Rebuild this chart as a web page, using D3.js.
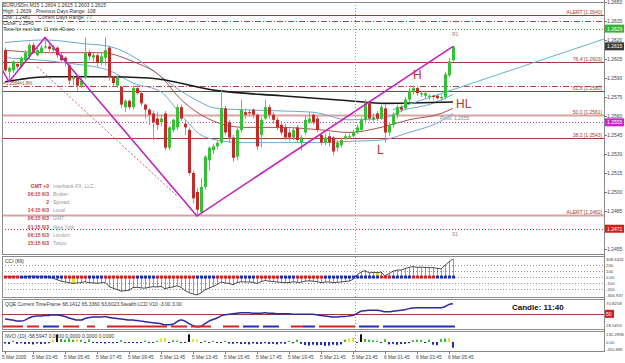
<!DOCTYPE html>
<html>
<head>
<meta charset="utf-8">
<script src="https://cdn.jsdelivr.net/npm/d3@7/dist/d3.min.js"></script>
<style>
  body { margin: 0; background: #fff; }
  svg text { font-family: "Liberation Sans", Arial, sans-serif; }
</style>
</head>
<body>
<div id="chart"></div>
<script>
// ---- data (EURUSDm M15) ----
const barOpen = [1.2612,1.2595,1.2596,1.2601,1.2599,1.2604,1.2607,1.2616,1.2608,1.2610,
  1.2614,1.2615,1.2612,1.2614,1.2608,1.2606,1.2600,1.2589,1.2591,1.2584,
  1.2591,1.2610,1.2606,1.2608,1.2602,1.2606,1.2614,1.2591,1.2584,1.2583,
  1.2567,1.2572,1.2567,1.2582,1.2578,1.2569,1.2565,1.2562,1.2558,1.2555,
  1.2562,1.2535,1.2549,1.2551,1.2567,1.2554,1.2549,1.2515,1.2500,1.2484,
  1.2504,1.2525,1.2533,1.2536,1.2539,1.2566,1.2555,1.2543,1.2528,1.2549,
  1.2563,1.2563,1.2565,1.2561,1.2545,1.2558,1.2567,1.2561,1.2557,1.2553,
  1.2551,1.2547,1.2543,1.2551,1.2539,1.2547,1.2555,1.2561,1.2558,1.2545,
  1.2539,1.2544,1.2543,1.2535,1.2537,1.2542,1.2543,1.2544,1.2547,1.2549,
  1.2557,1.2570,1.2557,1.2562,1.2558,1.2566,1.2547,1.2553,1.2561,1.2567,
  1.2566,1.2573,1.2579,1.2582,1.2577,1.2576,1.2575,1.2576,1.2576,1.2574,
  1.2575,1.2592,1.2604];
const barHigh = [1.2614,1.2599,1.2604,1.2603,1.2607,1.2612,1.2618,1.2618,1.2614,1.2616,
  1.2622,1.2617,1.2616,1.2615,1.2610,1.2607,1.2602,1.2592,1.2592,1.2590,
  1.2622,1.2612,1.2610,1.2610,1.2610,1.2622,1.2615,1.2592,1.2592,1.2584,
  1.2573,1.2573,1.2584,1.2584,1.2580,1.2570,1.2566,1.2564,1.2563,1.2561,
  1.2564,1.2552,1.2558,1.2569,1.2569,1.2557,1.2551,1.2517,1.2503,1.2511,
  1.2529,1.2536,1.2538,1.2541,1.2580,1.2568,1.2557,1.2545,1.2551,1.2573,
  1.2566,1.2565,1.2566,1.2562,1.2559,1.2573,1.2569,1.2563,1.2559,1.2556,
  1.2554,1.2550,1.2551,1.2553,1.2545,1.2560,1.2563,1.2562,1.2560,1.2547,
  1.2546,1.2547,1.2544,1.2541,1.2543,1.2546,1.2546,1.2549,1.2553,1.2559,
  1.2573,1.2572,1.2562,1.2564,1.2569,1.2569,1.2555,1.2563,1.2569,1.2569,
  1.2575,1.2582,1.2584,1.2584,1.2580,1.2580,1.2577,1.2577,1.2577,1.2577,
  1.2595,1.2606,1.2615];
const barLow = [1.2595,1.2587,1.2594,1.2597,1.2598,1.2603,1.2605,1.2609,1.2607,1.2609,
  1.2613,1.2611,1.2610,1.2606,1.2603,1.2599,1.2585,1.2584,1.2580,1.2582,
  1.2589,1.2604,1.2603,1.2599,1.2600,1.2600,1.2588,1.2584,1.2582,1.2566,
  1.2563,1.2565,1.2565,1.2577,1.2568,1.2558,1.2553,1.2541,1.2549,1.2552,
  1.2533,1.2533,1.2547,1.2549,1.2556,1.2545,1.2513,1.2491,1.2481,1.2483,
  1.2502,1.2517,1.2530,1.2534,1.2538,1.2545,1.2539,1.2524,1.2525,1.2547,
  1.2558,1.2560,1.2558,1.2533,1.2535,1.2557,1.2558,1.2554,1.2549,1.2545,
  1.2541,1.2540,1.2541,1.2539,1.2533,1.2545,1.2554,1.2553,1.2547,1.2537,
  1.2537,1.2536,1.2529,1.2532,1.2535,1.2541,1.2542,1.2543,1.2546,1.2547,
  1.2555,1.2556,1.2555,1.2556,1.2557,1.2539,1.2544,1.2551,1.2558,1.2563,
  1.2565,1.2571,1.2577,1.2576,1.2575,1.2574,1.2573,1.2573,1.2573,1.2572,
  1.2573,1.2591,1.2603];
const barClose = [1.2596,1.2598,1.2603,1.2599,1.2606,1.2610,1.2616,1.2610,1.2612,1.2614,
  1.2615,1.2613,1.2614,1.2608,1.2604,1.2603,1.2588,1.2590,1.2584,1.2588,
  1.2610,1.2607,1.2608,1.2602,1.2607,1.2612,1.2591,1.2586,1.2590,1.2569,
  1.2572,1.2567,1.2582,1.2578,1.2570,1.2565,1.2561,1.2555,1.2553,1.2558,
  1.2535,1.2551,1.2557,1.2567,1.2558,1.2551,1.2515,1.2495,1.2486,1.2504,
  1.2528,1.2535,1.2536,1.2539,1.2566,1.2547,1.2543,1.2527,1.2549,1.2565,
  1.2561,1.2562,1.2561,1.2536,1.2557,1.2567,1.2561,1.2557,1.2551,1.2547,
  1.2543,1.2543,1.2549,1.2541,1.2543,1.2557,1.2558,1.2555,1.2549,1.2539,
  1.2543,1.2539,1.2532,1.2539,1.2541,1.2544,1.2544,1.2547,1.2551,1.2557,
  1.2570,1.2558,1.2559,1.2558,1.2567,1.2547,1.2553,1.2561,1.2567,1.2565,
  1.2573,1.2580,1.2582,1.2578,1.2578,1.2578,1.2576,1.2575,1.2574,1.2575,
  1.2593,1.2603,1.2615];

// indicator lines on price panel: [bar, price]
const upperBand = [[0,1.2618],[10,1.2620],[20,1.2617],[26,1.2615],[32,1.2607],[37,1.2596],[42,1.2584],[47,1.2574],[53,1.2566],[59,1.2565],[69,1.2564],[77,1.2563],[86,1.2557],[94,1.2558],[100,1.2565],[106,1.2569],[112,1.2577]];
const midBand = [[0,1.2612],[10,1.2610],[24,1.2610],[32,1.2603],[39,1.2591],[44,1.2573],[49,1.2561],[55,1.2553],[60,1.2551],[69,1.2551],[79,1.2549],[86,1.2547],[94,1.2551],[101,1.2557],[109,1.2562],[112,1.2566]];
const lowerBand = [[0,1.2606],[15,1.2602],[26,1.2596],[32,1.2586],[39,1.2579],[44,1.2561],[49,1.2545],[53,1.2541],[59,1.2539],[69,1.2539],[79,1.2539],[86,1.2540],[94,1.2541],[101,1.2547],[109,1.2556],[112,1.2562]];
const slowMA = [[0,1.2587],[4,1.2589],[11,1.2591],[24,1.2591],[36,1.2590],[53,1.2580],[69,1.2576],[86,1.2572],[95,1.2570],[112,1.2571]];
const zigzag = [[-1,1.2598],[1,1.2587],[10,1.2622],[48,1.2481],[112,1.2615]];
const channelLine = [[8,1.2599],[43,1.2497]];
const trendLine = [[97,1.2565],[150,1.2621]];

const levelPrices = [1.2640,1.2635,1.2629,1.2603,1.2584,1.2580,1.2561,1.2555,1.2543,1.2482,1.2471];
const levelKinds  = ["solid","dashdot","dotgreen","solid","dashdot","solid","wide","dotmag","solid","wide","dotred"];
const levelNames  = ["ALERT  [1.2640]","","","76.4  [1.2603]","","61.8  [1.2580]","50.0  [1.2561]","","38.2  [1.2543]","ALERT  [1.2482]",""];

const priceTicks = [1.2650,1.2635,1.2620,1.2605,1.2590,1.2575,1.2560,1.2545,1.2530,1.2515,1.2500,1.2485,1.2470,1.2455];
const markerPrices = [1.2629,1.2615,1.2555,1.2471];
const markerKinds = ["green","dark","magenta","red"];

const timeBars = [0,7,15,23,31,39,47,55,63,71,79,87,95,103,111];
const timeLabels = ["5 Mar 2009","5 Mar 03:45","5 Mar 05:45","5 Mar 07:45","5 Mar 09:45","5 Mar 11:45","5 Mar 13:45",
  "5 Mar 15:45","5 Mar 17:45","5 Mar 19:45","5 Mar 21:45","5 Mar 23:45","6 Mar 01:45","6 Mar 03:45","6 Mar 05:45"];
const daySplitBar = 87.5;

const cciValues = [5,10,8,2,-5,0,12,15,10,5, 8,0,-20,-45,-70,-85,-95,-110,-100,-95,
  -80,-95,-100,-105,-100,-90,-160,-190,-215,-240, -235,-225,-180,-175,-185,-190,-175,-165,-170,-160,
  -200,-180,-170,-150,-175,-230,-265,-290,-306,-270, -220,-190,-160,-130,-85,-100,-110,-130,-95,-80,
  -85,-85,-90,-110,-80,-60,-70,-75,-85,-90, -95,-95,-80,-90,-90,-70,-65,-70,-80,-95,
  -85,-85,-95,-90,-85,-75,-70,-40,40,85, 110,70,80,75,85,20,60,100,120,120,
  145,165,180,165,170,165,160,160,150,140, 200,260,308];
const cciDots = "rrrrbbbbbbbbbbbrrrrrrbbbbrrrrrrrrbbbbbrrrrrrrrrrbbbbbrrrrrrbbbbrrrrrrbbbbrrrrrrrbbbbbbbbbbbbbbrrrbbbbbrrrrrrbbbbb";
const cciYellowBars = [17,93];
const cciLevels = [200,100,0,-100,-200];
const cciAxisLabels = ["308.6431","200","100","0.00","-100","-200","-306.937"];
const cciAxisValues = [308.6431,200,100,0,-100,-200,-306.937];

const qqeValues = [40,39,38,36,36,38,42,45,46,46, 47,47,48,48,47,45,42,40,38,38,
  41,43,44,44,44,45,43,42,41,40, 39,38,38,37,36,35,34,33,32,31,
  29,29,30,35,38,36,31,27,25,26, 31,36,39,42,46,48,49,50,51,52,
  52,52,51,51,51,52,51,51,50,50, 50,50,49,49,49,49,49,49,48,47,
  46,45,44,44,45,45,46,47,51,55, 56,57,57,57,56,54,54,55,56,57,
  58,60,61,61.5,61.7,61.7,61.7,61.7,61.7,61.7, 64,68,69.5];
const qqeState = "rrrrr_rrr_bbbb_rrrr__rr___rrrrrrrrrrrrrrr_rrrr_rrrrr___rrrr_bbbb_bbbb___rrrbbb_rrrrrrrrr_bbbbb_bbbbbbbbbbbbbbbbbb";

const nvoValues = [-50,-70,20,-60,-40,-70,-60,-80,-50,-70,-60,-40,
  40,125,50,40,60,40,55,35,
  -20,45,-30,-40,-30,-50,-20,-40,-30,30,-20,-30,-20,-40,-30,25,
  -20,-30,20,60,70,-20,30,25,-20,-30,130,50,40,-20,25,-30,20,-20,-30,20,
  -50,-60,-40,-70,-60,-80,-50,-70,-60,-40,-70,-60,-80,-50,-60,
  20,-40,40,-60,
  -100,-120,-90,-110,-100,-130,-120,-90,-110,-80,
  40,60,70,-30,130,50,40,30,25,-30,45,-80,-60,-90,-70,-60,-40,30,40,35,-30,40,-90,-110,50,60,70,-190];
const nvoColors = "bbgbbbbbbbbb" + "ykggggyg" + "bgbbbbbbbgbbbbbg" + "bbgyybggbbkyybgbgbbg" +
  "bbbbbbbbbbbbbbb" + "gbgb" + "bbbbbbbbbb" + "gyybkggggbgbbbbbbgggbgbbggyb";

// ---- layout ----
const W = 625, H = 363;
const mainP = {l: 2, r: 604, t: 2, b: 254};
const cciP = {t: 256, b: 297};
const qqeP = {t: 299, b: 329};
const nvoP = {t: 331, b: 351};

const svg = d3.select('#chart').append('svg').attr('width', W).attr('height', H);
svg.append('rect').attr('width', W).attr('height', H).attr('fill', '#fff');

const x = d3.scaleLinear().domain([0, 112]).range([5, 453]);
const y = d3.scaleLinear().domain([1.2455, 1.2650]).range([249, 2]);
const cciY = d3.scaleLinear().domain([-306.937, 308.6431]).range([295, 259]);
const qqeY = d3.scaleLinear().domain([28.5453, 70.8258]).range([325, 303]);
const nvoY = d3.scaleLinear().domain([-200.885, 0, 135.2896]).range([348, 342, 334]);

const defs = svg.append('defs');
defs.append('clipPath').attr('id', 'clipMain').append('rect')
  .attr('x', mainP.l).attr('y', mainP.t).attr('width', mainP.r - mainP.l).attr('height', mainP.b - mainP.t);

const main = svg.append('g').attr('clip-path', 'url(#clipMain)');
const font = 6;
const small = 5;

// horizontal levels
const levelStyle = {
  solid:    {stroke: '#a33a3a', w: 1, dash: null},
  dashdot:  {stroke: '#b04848', w: 1, dash: '6,2,1,2'},
  dotgreen: {stroke: '#3aaa3a', w: 1, dash: '1,2'},
  wide:     {stroke: '#d9a3a3', w: 2, dash: null},
  dotmag:   {stroke: '#c040c0', w: 1, dash: '1,2'},
  dotred:   {stroke: '#cc2020', w: 1, dash: '1,2'}
};
levelPrices.forEach((p, i) => {
  const s = levelStyle[levelKinds[i]];
  main.append('line')
    .attr('x1', mainP.l).attr('x2', mainP.r)
    .attr('y1', Math.round(y(p)) + 0.5).attr('y2', Math.round(y(p)) + 0.5)
    .attr('stroke', s.stroke).attr('stroke-width', s.w)
    .attr('stroke-dasharray', s.dash);
  if (levelNames[i]) {
    main.append('text').attr('x', 602).attr('y', Math.round(y(p)) - 1)
      .attr('text-anchor', 'end').attr('font-size', small).attr('fill', '#a33a3a')
      .text(levelNames[i]);
  }
});

// day separator
svg.append('line')
  .attr('x1', Math.round(x(daySplitBar)) + 0.5).attr('x2', Math.round(x(daySplitBar)) + 0.5)
  .attr('y1', mainP.t).attr('y2', nvoP.b)
  .attr('stroke', '#999').attr('stroke-dasharray', '1,2');

// pivot and R1/S1 labels
main.append('text').attr('x', 440).attr('y', y(1.2555) - 2).attr('font-size', small).attr('fill', '#888').text('Pivot: 1.2555');
main.append('text').attr('x', 452).attr('y', y(1.2629) + 7).attr('font-size', small).attr('fill', '#888').text('R1');
main.append('text').attr('x', 452).attr('y', y(1.2471) + 7).attr('font-size', small).attr('fill', '#888').text('S1');
main.append('text').attr('x', 3).attr('y', y(1.2584) - 1).attr('font-size', 4.5).attr('fill', '#a33a3a').text('=1.2584=1.8%');

// bands and MAs
const line = d3.line().x(d => x(d[0])).y(d => y(d[1])).curve(d3.curveMonotoneX);
const straight = d3.line().x(d => x(d[0])).y(d => y(d[1]));
main.append('path').datum(upperBand).attr('d', line).attr('fill', 'none').attr('stroke', '#6fa8d0').attr('stroke-width', 1);
main.append('path').datum(lowerBand).attr('d', line).attr('fill', 'none').attr('stroke', '#6fa8d0').attr('stroke-width', 1);
main.append('path').datum(midBand).attr('d', line).attr('fill', 'none').attr('stroke', '#b05050').attr('stroke-width', 1);
main.append('path').datum(slowMA).attr('d', line).attr('fill', 'none').attr('stroke', '#1a1a1a').attr('stroke-width', 1.6);
main.append('path').datum(channelLine).attr('d', straight).attr('fill', 'none').attr('stroke', '#c06060').attr('stroke-dasharray', '2,2');
main.append('path').datum(trendLine).attr('d', straight).attr('fill', 'none').attr('stroke', '#5ab4d8').attr('stroke-width', 1);

// candles
const bars = d3.range(barOpen.length);
main.selectAll('.wick').data(bars).join('line')
  .attr('class', 'wick')
  .attr('x1', i => Math.round(x(i)) + 0.5).attr('x2', i => Math.round(x(i)) + 0.5)
  .attr('y1', i => y(barHigh[i])).attr('y2', i => y(barLow[i]))
  .attr('stroke', '#9a9a9a').attr('stroke-width', 1);
main.selectAll('.body').data(bars).join('rect')
  .attr('class', 'body')
  .attr('x', i => Math.round(x(i)) - 1)
  .attr('width', 3)
  .attr('y', i => y(Math.max(barOpen[i], barClose[i])))
  .attr('height', i => Math.max(1, Math.abs(y(barOpen[i]) - y(barClose[i]))))
  .attr('fill', i => barClose[i] > barOpen[i] ? '#33c233' : (barClose[i] < barOpen[i] ? '#c42a2a' : '#888'));

// zigzag
main.append('path').datum(zigzag).attr('d', straight).attr('fill', 'none').attr('stroke', '#c020c0').attr('stroke-width', 1.5);

// swing labels
main.append('text').attr('x', x(102)).attr('y', y(1.2589)).attr('font-size', 12).attr('fill', '#c03030').text('H');
main.append('text').attr('x', x(93)).attr('y', y(1.2530)).attr('font-size', 12).attr('fill', '#c03030').text('L');
main.append('text').attr('x', x(112) + 3).attr('y', y(1.2566)).attr('font-size', 12).attr('fill', '#c03030').text('HL');

// info text top-left
const info = svg.append('g').attr('font-size', small).attr('fill', '#333');
info.append('text').attr('x', 3).attr('y', 7).text('EURUSDm,M15  1.2604 1.2615 1.2603 1.2615');
info.append('text').attr('x', 3).attr('y', 13).text('High: 1.2639');
info.append('text').attr('x', 36).attr('y', 13).text('Previous Days Range: 108');
info.append('text').attr('x', 3).attr('y', 19).text('Low: 1.2481');
info.append('text').attr('x', 38).attr('y', 19).text('Current Days Range: 77');
info.append('text').attr('x', 3).attr('y', 25).text('Close: 1.2545');
info.append('text').attr('x', 3).attr('y', 31).text('Time for next bar: 11 min 40 sec');

// clock box lower-left
const clockVals = ["GMT +0","06:15  6/3","2","14:15  6/3","06:15  6/3","01:15  6/3","06:15  6/3","15:15  6/3"];
const clockNames = ["Interbank FX, LLC.:","Broker:","Spread:","Local:","GMT:","New York:","London:","Tokyo:"];
clockVals.forEach((v, i) => {
  svg.append('text').attr('x', 49).attr('y', 188 + i * 8.1).attr('text-anchor', 'end')
    .attr('font-size', small).attr('font-weight', 'bold').attr('fill', '#c04040').text(v);
  svg.append('text').attr('x', 53).attr('y', 188 + i * 8.1)
    .attr('font-size', small).attr('fill', '#999').text(clockNames[i]);
});

// price axis
const axisG = svg.append('g');
axisG.append('line').attr('x1', mainP.r + 0.5).attr('x2', mainP.r + 0.5).attr('y1', 0).attr('y2', nvoP.b).attr('stroke', '#777');
priceTicks.forEach(p => {
  axisG.append('line').attr('x1', mainP.r).attr('x2', mainP.r + 3).attr('y1', Math.round(y(p)) + 0.5).attr('y2', Math.round(y(p)) + 0.5).attr('stroke', '#777');
  axisG.append('text').attr('x', 607).attr('y', y(p) + 2).attr('font-size', small).attr('fill', '#444').text(p.toFixed(4));
});
const markerFill = {green: '#2fb82f', dark: '#3a3a3a', magenta: '#d020d0', red: '#d81c1c'};
markerPrices.forEach((p, i) => {
  axisG.append('rect').attr('x', 605).attr('y', y(p) - 4).attr('width', 19).attr('height', 8).attr('fill', markerFill[markerKinds[i]]);
  axisG.append('text').attr('x', 607).attr('y', y(p) + 2).attr('font-size', small).attr('fill', '#fff').text(p.toFixed(4));
});

// panel frames
[[mainP.t, mainP.b], [cciP.t, cciP.b], [qqeP.t, qqeP.b], [nvoP.t, nvoP.b]].forEach(([t, b]) => {
  svg.append('rect').attr('x', mainP.l + 0.5).attr('y', t + 0.5).attr('width', mainP.r - mainP.l).attr('height', b - t)
    .attr('fill', 'none').attr('stroke', '#8a8a8a');
});

// ---- CCI panel ----
const cci = svg.append('g');
cciLevels.forEach(v => {
  cci.append('line').attr('x1', mainP.l).attr('x2', mainP.r).attr('y1', Math.round(cciY(v)) + 0.5).attr('y2', Math.round(cciY(v)) + 0.5)
    .attr('stroke', '#999').attr('stroke-dasharray', '1,2');
});
cci.selectAll('.cbar').data(bars).join('line')
  .attr('x1', i => Math.round(x(i)) + 0.5).attr('x2', i => Math.round(x(i)) + 0.5)
  .attr('y1', cciY(0)).attr('y2', i => cciY(cciValues[i]))
  .attr('stroke', i => cciYellowBars.includes(i) ? '#e8e020' : '#555').attr('stroke-width', i => cciYellowBars.includes(i) ? 3 : 0.6);
cci.append('path').datum(bars).attr('d', d3.line().x(i => x(i)).y(i => cciY(cciValues[i])))
  .attr('fill', 'none').attr('stroke', '#222').attr('stroke-width', 0.8);
cci.selectAll('.cdot').data(bars).join('rect')
  .attr('x', i => Math.round(x(i)) - 1).attr('y', cciY(0) - 1.5).attr('width', 3).attr('height', 3)
  .attr('fill', i => cciDots[i] === 'r' ? '#d42020' : '#1f2fb0');
cci.append('text').attr('x', 5).attr('y', cciP.t + 7).attr('font-size', small).attr('fill', '#333').text('CCI (89)');
cciAxisValues.forEach((v, i) => {
  cci.append('text').attr('x', 606).attr('y', cciY(v) + 2).attr('font-size', 4.3).attr('fill', '#444').text(cciAxisLabels[i]);
});

// ---- QQE panel ----
const qqe = svg.append('g');
qqe.append('line').attr('x1', mainP.l).attr('x2', mainP.r).attr('y1', Math.round(qqeY(50)) + 0.5).attr('y2', Math.round(qqeY(50)) + 0.5)
  .attr('stroke', '#a33a3a');
qqe.append('path').datum(bars).attr('d', d3.line().x(i => x(i)).y(i => qqeY(qqeValues[i])).curve(d3.curveMonotoneX))
  .attr('fill', 'none').attr('stroke', '#2a2aa0').attr('stroke-width', 1.5);
qqe.selectAll('.qs').data(bars.filter(i => qqeState[i] !== '_')).join('rect')
  .attr('x', i => Math.round(x(i)) - 2).attr('y', qqeY(28.5453) + 0.5).attr('width', 4).attr('height', 2)
  .attr('fill', i => qqeState[i] === 'r' ? '#dd2020' : '#2030b0');
qqe.append('text').attr('x', 5).attr('y', qqeP.t + 7).attr('font-size', small).attr('fill', '#333')
  .text('QQE Current TimeFrame 68.1412 65.3360 63.6023  Stealth LCD  V10 -3.00 3.00');
qqe.append('text').attr('x', 512).attr('y', qqeP.t + 11).attr('font-size', 8).attr('font-weight', 'bold').attr('fill', '#111')
  .text('Candle:  11:40');
qqe.append('text').attr('x', 606).attr('y', qqeY(70.8258) + 2).attr('font-size', 4.3).attr('fill', '#444').text('70.8258');
qqe.append('text').attr('x', 606).attr('y', qqeY(28.5453) + 2).attr('font-size', 4.3).attr('fill', '#444').text('28.5453');
qqe.append('rect').attr('x', 605).attr('y', qqeY(50) - 4).attr('width', 9).attr('height', 8).attr('fill', '#d81c1c');
qqe.append('text').attr('x', 606).attr('y', qqeY(50) + 2).attr('font-size', small).attr('fill', '#fff').text('50');

// ---- NVO panel ----
const nvo = svg.append('g');
const nvoFill = {b: '#1f2fa8', g: '#30c030', y: '#e6e030', k: '#111'};
nvo.selectAll('.nb').data(bars).join('rect')
  .attr('x', i => Math.round(x(i)) - 1).attr('width', 2)
  .attr('y', i => Math.min(nvoY(0), nvoY(nvoValues[i])))
  .attr('height', i => Math.max(1, Math.abs(nvoY(nvoValues[i]) - nvoY(0))))
  .attr('fill', i => nvoFill[nvoColors[i]]);
nvo.append('text').attr('x', 5).attr('y', nvoP.t + 7).attr('font-size', small).attr('fill', '#333')
  .text('NVO (10) -58.5947 0.0000 0.0000 0.0000 0.0000');
nvo.append('text').attr('x', 606).attr('y', nvoY(135.2896) + 2).attr('font-size', 4.3).attr('fill', '#444').text('135.2896');
nvo.append('text').attr('x', 606).attr('y', nvoY(0) + 2).attr('font-size', 4.3).attr('fill', '#444').text('0.00');
nvo.append('text').attr('x', 606).attr('y', nvoY(-200.885) + 3).attr('font-size', 4.3).attr('fill', '#444').text('-200.885');

// ---- time axis ----
const tAxis = svg.append('g');
timeBars.forEach((b, i) => {
  tAxis.append('line').attr('x1', Math.round(x(b)) + 0.5).attr('x2', Math.round(x(b)) + 0.5)
    .attr('y1', nvoP.b).attr('y2', nvoP.b + 3).attr('stroke', '#777');
  tAxis.append('text').attr('x', b === 0 ? 2 : x(b) - 1).attr('y', nvoP.b + 8).attr('font-size', 4.8).attr('fill', '#444').text(timeLabels[i]);
});
</script>
</body>
</html>
